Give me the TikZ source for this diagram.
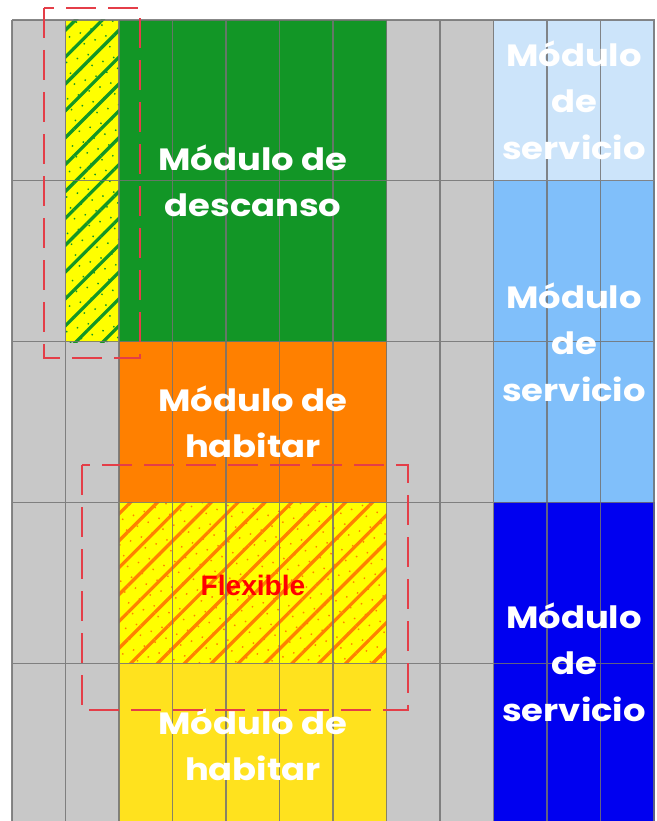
\documentclass[tikz,border=0pt]{standalone}
\usepackage{fontspec}
\usetikzlibrary{patterns.meta}
\newfontfamily\gothic{Poppins}[FakeStretch=1.15]
\newfontfamily\arialb{Liberation Sans}
\definecolor{cellgray}{RGB}{200,200,200}
\definecolor{gridln}{RGB}{115,115,115}
\definecolor{descgreen}{RGB}{18,150,38}
\definecolor{habor}{RGB}{255,128,0}
\definecolor{habyel}{RGB}{255,226,30}
\definecolor{hatchyel}{RGB}{255,255,0}
\definecolor{servA}{RGB}{204,228,250}
\definecolor{servB}{RGB}{128,191,250}
\definecolor{servC}{RGB}{0,0,240}
\definecolor{flexred}{RGB}{228,62,72}
\tikzset{
  modtxt/.style={font=\gothic\bfseries\fontsize{35}{53}\selectfont,text=white,align=center,inner sep=0pt},
  flextxt/.style={font=\arialb\bfseries\fontsize{32}{34}\selectfont,text=red,inner sep=0pt},
  gridlines/.style={draw=gridln,line width=0.5mm,opacity=0.85},
  zonebox/.style={draw=flexred,line width=0.6mm,dash pattern=on 12mm off 4.8mm},
}
\begin{document}
\begin{tikzpicture}[x=0.4mm,y=0.4mm]
  \useasboundingbox (0,0) rectangle (656,-821);
  \fill[white] (0,0) rectangle (656,-821);
  \fill[cellgray] (12,-20) rectangle (655,-821);
  \fill[hatchyel] (65.5,-20) rectangle (119,-342);
  \fill[pattern={Lines[angle=45,distance=7.6mm,line width=1.3mm]},pattern color=descgreen] (65.5,-20) rectangle (119,-342);
  \fill[pattern={Dots[radius=0.4mm,distance=4.6mm,angle=20]},pattern color=descgreen] (65.5,-20) rectangle (119,-342);
  \fill[descgreen] (119,-20) rectangle (386.5,-342);
  \fill[habor] (119,-342) rectangle (386.5,-502);
  \fill[hatchyel] (119,-502) rectangle (386.5,-663);
  \fill[pattern={Lines[angle=45,distance=7.6mm,line width=1.3mm]},pattern color=habor] (119,-502) rectangle (386.5,-663);
  \fill[pattern={Dots[radius=0.4mm,distance=4.6mm,angle=20]},pattern color=habor] (119,-502) rectangle (386.5,-663);
  \fill[habyel] (119,-663) rectangle (386.5,-821);
  \fill[servA] (493.5,-20) rectangle (655,-181);
  \fill[servB] (493.5,-181) rectangle (655,-502);
  \fill[servC] (493.5,-502) rectangle (655,-821);
  \begin{scope}[shift={(12,-20)}]
    \draw[gridlines] (0,0) grid[xstep=53.5,ystep=160.8] (642.5,-801);
  \end{scope}
  \node[modtxt] (descanso) at (253,-181) {Módulo de\\descanso};
  \node[modtxt] (habitarA) at (253,-422) {Módulo de\\habitar};
  \node[flextxt] (flexible) at (253,-585) {Flexible};
  \node[modtxt] (habitarB) at (253,-745) {Módulo de\\habitar};
  \node[modtxt] (servicioA) at (574,-100) {Módulo\\de\\servicio};
  \node[modtxt] (servicioB) at (574,-342) {Módulo\\de\\servicio};
  \node[modtxt] (servicioC) at (574,-662) {Módulo\\de\\servicio};
  \draw[zonebox] (44,-8) rectangle (140,-358);
  \draw[zonebox] (82,-465) rectangle (408,-710);
\end{tikzpicture}
\end{document}
